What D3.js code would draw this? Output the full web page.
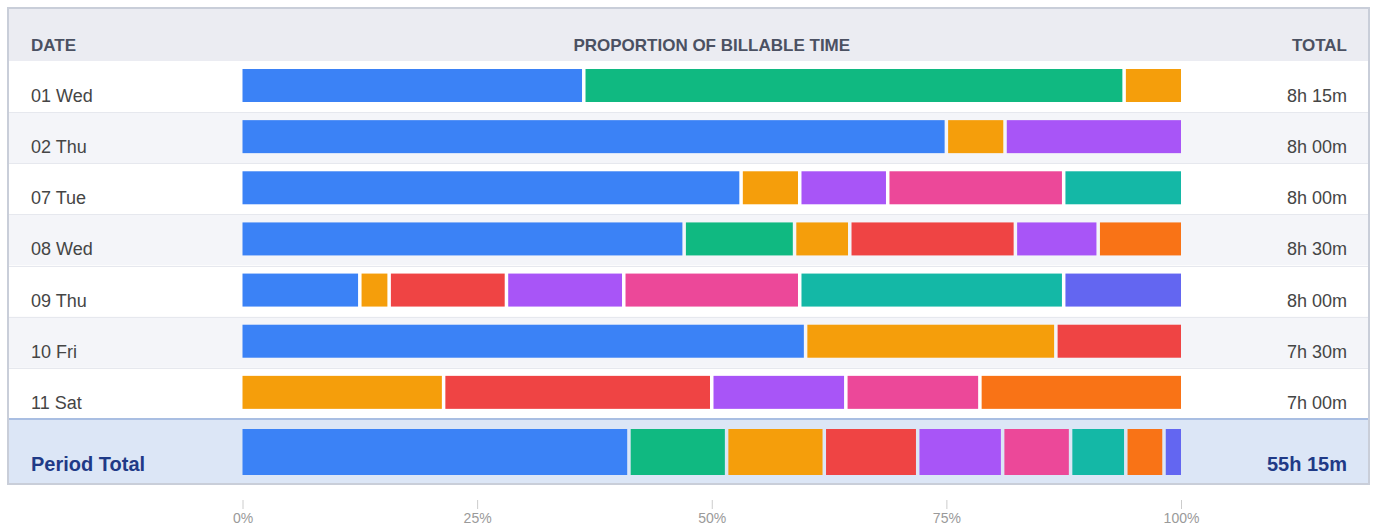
<!DOCTYPE html>
<html>
<head>
<meta charset="utf-8">
<script src="https://cdn.jsdelivr.net/npm/d3@7"></script>
<style>
  html, body { margin: 0; padding: 0; background: #ffffff; }
  svg { display: block; font-family: "Liberation Sans", Arial, Helvetica, sans-serif; }
</style>
</head>
<body>
<svg id="chart" width="1377" height="527"></svg>
<script>
// ---- Data (minutes of billable time per project, per day) ----
const dates = ["01 Wed", "02 Thu", "07 Tue", "08 Wed", "09 Thu", "10 Fri", "11 Sat"];
const projects = ["blue", "green", "amber", "red", "purple", "pink", "teal", "orange", "indigo"];
const projectColors = ["#3b82f6", "#10b981", "#f59e0b", "#ef4444", "#a855f7", "#ec4899", "#14b8a6", "#f97316", "#6366f1"];
const blueMinutes   = [180, 360, 255, 240,  60, 270,   0];
const greenMinutes  = [285,   0,   0,  60,   0,   0,   0];
const amberMinutes  = [ 30,  30,  30,  30,  15, 120,  90];
const redMinutes    = [  0,   0,   0,  90,  60,  60, 120];
const purpleMinutes = [  0,  90,  45,  45,  60,   0,  60];
const pinkMinutes   = [  0,   0,  90,   0,  90,   0,  60];
const tealMinutes   = [  0,   0,  60,   0, 135,   0,   0];
const orangeMinutes = [  0,   0,   0,  45,   0,   0,  90];
const indigoMinutes = [  0,   0,   0,   0,  60,   0,   0];
const tickValues = [0, 0.25, 0.5, 0.75, 1];
const headerLabels = { date: "DATE", proportion: "PROPORTION OF BILLABLE TIME", total: "TOTAL" };
const periodLabel = "Period Total";

// ---- Build table ----
const seriesByProject = [blueMinutes, greenMinutes, amberMinutes, redMinutes, purpleMinutes,
                         pinkMinutes, tealMinutes, orangeMinutes, indigoMinutes];
const rows = dates.map((d, i) => {
  const r = { label: d };
  projects.forEach((p, j) => { r[p] = seriesByProject[j][i]; });
  return r;
});
const periodRow = { label: periodLabel };
projects.forEach((p, j) => { periodRow[p] = d3.sum(seriesByProject[j]); });

const color = d3.scaleOrdinal().domain(projects).range(projectColors);
const fmtDur = m => `${Math.floor(m / 60)}h ${String(m % 60).padStart(2, "0")}m`;
const rowTotal = r => d3.sum(projects, p => r[p]);

// ---- Layout ----
const svg = d3.select("#chart");
const box = { x0: 8, y0: 8, x1: 1369, y1: 484 };
const headerBottom = 61;
const periodTop = 419;
const rowH = (periodTop - headerBottom) / dates.length;
const labelX = 31, totalX = 1347;

const x = d3.scaleLinear().domain([0, 1]).range([242.5, 1181]);
const y = d3.scaleBand().domain(dates).range([headerBottom, periodTop]);

// Outer box
svg.append("rect")
  .attr("x", box.x0).attr("y", box.y0)
  .attr("width", box.x1 - box.x0).attr("height", box.y1 - box.y0)
  .attr("fill", "#ffffff").attr("stroke", "#c9ced9").attr("stroke-width", 2);

// Header background
svg.append("rect")
  .attr("x", box.x0 + 1).attr("y", box.y0 + 1)
  .attr("width", box.x1 - box.x0 - 2).attr("height", headerBottom - box.y0 - 1)
  .attr("fill", "#ebecf2");

// Row backgrounds
svg.append("g").selectAll("rect").data(rows).join("rect")
  .attr("x", box.x0 + 1).attr("y", d => y(d.label))
  .attr("width", box.x1 - box.x0 - 2).attr("height", y.bandwidth())
  .attr("fill", (d, i) => i % 2 === 0 ? "#ffffff" : "#f4f5f9");

// Row separators
svg.append("g").selectAll("line").data(rows.slice(0, -1)).join("line")
  .attr("x1", box.x0 + 1).attr("x2", box.x1 - 1)
  .attr("y1", d => Math.round(y(d.label) + y.bandwidth()) + 0.5)
  .attr("y2", d => Math.round(y(d.label) + y.bandwidth()) + 0.5)
  .attr("stroke", "#e6e8ee").attr("stroke-width", 1);

// Period total background
svg.append("rect")
  .attr("x", box.x0 + 1).attr("y", periodTop)
  .attr("width", box.x1 - box.x0 - 2).attr("height", box.y1 - periodTop - 1)
  .attr("fill", "#dce6f6");
svg.append("line")
  .attr("x1", box.x0 + 1).attr("x2", box.x1 - 1)
  .attr("y1", periodTop).attr("y2", periodTop)
  .attr("stroke", "#a9bee2").attr("stroke-width", 2);

// Header texts
const header = svg.append("g").attr("font-weight", "bold").attr("font-size", 17).attr("fill", "#4b5162");
header.append("text").attr("x", labelX).attr("y", 51).text(headerLabels.date);
header.append("text").attr("x", (x(0) + x(1)) / 2).attr("y", 51).attr("text-anchor", "middle").text(headerLabels.proportion);
header.append("text").attr("x", totalX).attr("y", 51).attr("text-anchor", "end").text(headerLabels.total);

// Stacked, normalized bars
const stack = d3.stack().keys(projects).offset(d3.stackOffsetExpand);
const gap = 1.75;
function drawBars(data, yTop, h) {
  const layers = stack(data);
  const g = svg.append("g");
  layers.forEach(layer => {
    g.selectAll(null).data(layer.filter(s => s[1] - s[0] > 0)).join("rect")
      .attr("x", s => x(s[0]) + (s[0] > 1e-9 ? gap : 0))
      .attr("y", (s, i) => yTop(s.data))
      .attr("width", s => Math.max(0, x(s[1]) - x(s[0]) - (s[0] > 1e-9 ? gap : 0) - (s[1] < 1 - 1e-9 ? gap : 0)))
      .attr("height", h)
      .attr("fill", color(layer.key));
  });
}
drawBars(rows, d => y(d.label) + 8, 33);
drawBars([periodRow], () => periodTop + 10, 46);

// Row labels and totals
const labels = svg.append("g").attr("font-size", 18).attr("fill", "#454545");
labels.selectAll("text.date").data(rows).join("text").attr("class", "date")
  .attr("x", labelX).attr("y", d => y(d.label) + 41).text(d => d.label);
labels.selectAll("text.tot").data(rows).join("text").attr("class", "tot")
  .attr("x", totalX).attr("y", d => y(d.label) + 41).attr("text-anchor", "end")
  .text(d => fmtDur(rowTotal(d)));

// Period total labels
const pt = svg.append("g").attr("font-size", 20).attr("font-weight", "bold").attr("fill", "#1f3a87");
pt.append("text").attr("x", labelX).attr("y", 471).text(periodRow.label);
pt.append("text").attr("x", totalX).attr("y", 471).attr("text-anchor", "end").text(fmtDur(rowTotal(periodRow)));

// Axis
const axis = d3.axisBottom(x).tickValues(tickValues).tickFormat(d3.format(".0%")).tickSize(9).tickPadding(4);
const ag = svg.append("g").attr("transform", "translate(0,500)").call(axis);
ag.select(".domain").remove();
ag.selectAll(".tick line").attr("stroke", "#cccccc");
ag.selectAll(".tick text").attr("fill", "#9a9a9a").attr("font-size", 14)
  .attr("font-family", "'Liberation Sans', Arial, Helvetica, sans-serif");
</script>
</body>
</html>
